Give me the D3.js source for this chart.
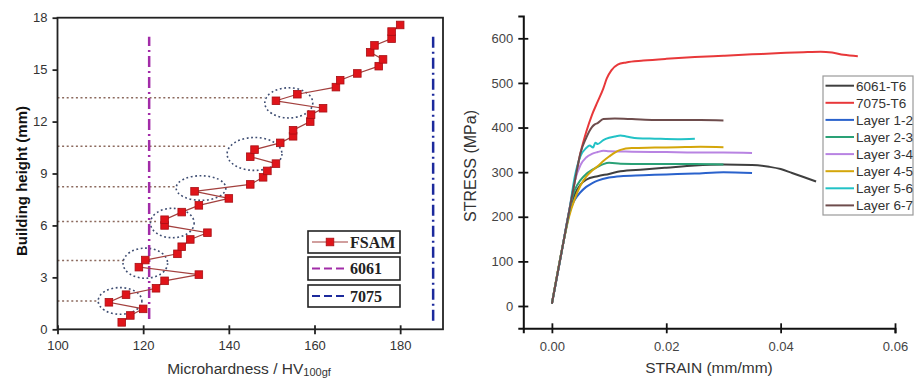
<!DOCTYPE html>
<html>
<head>
<meta charset="utf-8">
<script src="https://cdn.jsdelivr.net/npm/d3@7"></script>
<style>
  html, body { margin: 0; padding: 0; background: #fff; }
  svg { display: block; font-family: Arial, "Liberation Sans", sans-serif; }
</style>
</head>
<body>
<svg id="chart" width="914" height="378"></svg>
<script>
/* Two-panel figure: microhardness profile of the FSAM build (left) and
 * stress-strain curves of the base alloys and layer interfaces (right). */

// ---- left panel data ----
var hardness = [115, 117, 120, 112, 116, 123, 125, 133, 119, 120.5, 128, 129, 131, 135, 125, 125, 129, 133, 140, 132,
  145, 148, 149, 151, 145, 146, 152, 155, 155, 159, 159.2, 162, 151, 156, 165, 166, 170, 175, 176, 173, 174, 178, 178, 180];
var height = [0.4, 0.8, 1.18, 1.56, 2.0, 2.37, 2.8, 3.16, 3.59, 4.0, 4.36, 4.77, 5.19, 5.58, 6.0, 6.33, 6.77, 7.16, 7.56, 7.97,
  8.37, 8.78, 9.15, 9.57, 9.97, 10.38, 10.77, 11.15, 11.5, 12.0, 12.4, 12.77, 13.2, 13.58, 13.99, 14.39, 14.78, 15.2, 15.59, 16.0,
  16.4, 16.79, 17.2, 17.58];
var refAlloys = ["6061", "7075"];
var refHardness = [121.4, 187.7];
var refSpan = [[0.6, 16.9], [0.5, 16.9]];
var interfaceHeight = [13.37, 10.57, 8.24, 6.23, 3.97, 1.64];
var interfaceEnd = [148.4, 139.3, 127.6, 123, 115.6, 109.7];
var ringCenterX = [154, 146, 133.5, 126.8, 120.5, 114.6];
var ringCenterY = [13.08, 10.13, 8.16, 6.14, 3.82, 1.64];
var ringRadiusX = [5.6, 6.4, 5.8, 5.1, 5.2, 5.1];
var ringRadiusY = [0.87, 0.95, 0.71, 0.85, 0.87, 0.77];
var hvTicks = [100, 120, 140, 160, 180];
var heightTicks = [0, 3, 6, 9, 12, 15, 18];

// ---- right panel data ----
var curveNames = ["6061-T6", "7075-T6", "Layer 1-2", "Layer 2-3", "Layer 3-4", "Layer 4-5", "Layer 5-6", "Layer 6-7"];
var curve6061 = [[0, 5], [0.002, 142], [0.003, 205], [0.004, 250], [0.005, 272], [0.006, 283], [0.008, 291], [0.010, 296],
  [0.012, 302], [0.016, 306], [0.020, 310], [0.025, 315], [0.030, 317], [0.035, 316], [0.038, 312], [0.040, 307],
  [0.042, 298], [0.044, 289], [0.0462, 279]];
var curve7075 = [[0, 5], [0.002, 142], [0.004, 279], [0.005, 343], [0.006, 390], [0.007, 428], [0.008, 458], [0.009, 488],
  [0.0096, 510], [0.0104, 528], [0.0115, 541], [0.013, 546], [0.016, 550], [0.020, 554], [0.025, 558], [0.030, 561],
  [0.035, 564], [0.040, 567], [0.044, 569], [0.047, 570], [0.049, 568], [0.051, 563], [0.0535, 560]];
var curveL12 = [[0, 5], [0.002, 142], [0.003, 208], [0.004, 238], [0.005, 255], [0.006, 267], [0.007, 275], [0.008, 281],
  [0.010, 288], [0.012, 291], [0.016, 293], [0.020, 295], [0.025, 297], [0.030, 300], [0.035, 298]];
var curveL23 = [[0, 5], [0.002, 142], [0.003, 212], [0.004, 260], [0.005, 282], [0.006, 296], [0.007, 305], [0.008, 312],
  [0.009, 318], [0.010, 321], [0.012, 319], [0.016, 318], [0.020, 318], [0.025, 318], [0.030, 317]];
var curveL34 = [[0, 5], [0.002, 142], [0.003, 212], [0.004, 280], [0.005, 316], [0.006, 333], [0.007, 341], [0.008, 345],
  [0.009, 348], [0.010, 347], [0.014, 346], [0.020, 345], [0.025, 344], [0.030, 344], [0.035, 343]];
var curveL45 = [[0, 5], [0.002, 142], [0.003, 200], [0.004, 240], [0.005, 270], [0.006, 290], [0.007, 303], [0.008, 313],
  [0.009, 325], [0.010, 335], [0.011, 344], [0.012, 350], [0.014, 354], [0.018, 355], [0.022, 356], [0.026, 357], [0.030, 356]];
var curveL56 = [[0, 5], [0.002, 142], [0.003, 210], [0.004, 290], [0.005, 336], [0.006, 354], [0.0066, 360], [0.0072, 355],
  [0.0076, 366], [0.008, 363], [0.009, 372], [0.010, 377], [0.011, 380], [0.012, 382], [0.013, 380], [0.015, 376],
  [0.018, 375], [0.022, 374], [0.025, 375]];
var curveL67 = [[0, 5], [0.002, 142], [0.004, 279], [0.005, 343], [0.006, 377], [0.007, 401], [0.0075, 407], [0.008, 410],
  [0.009, 419], [0.011, 420], [0.014, 419], [0.018, 417], [0.022, 417], [0.026, 417], [0.030, 416]];
var strainTicks = [0, 0.02, 0.04, 0.06];
var stressTicks = [0, 100, 200, 300, 400, 500, 600];

(function () {
  "use strict";

  var svg = d3.select("#chart");

  // ================= left panel =================
  var x1 = d3.scaleLinear().domain([100, 190]).range([57.5, 443]);
  var y1 = d3.scaleLinear().domain([0, 18]).range([329.3, 17.7]);
  var left = svg.append("g");

  // interface guide lines
  left.append("g").selectAll("line")
    .data(interfaceHeight)
    .join("line")
    .attr("x1", x1(100))
    .attr("x2", function (d, i) { return x1(interfaceEnd[i]); })
    .attr("y1", function (d) { return y1(d); })
    .attr("y2", function (d) { return y1(d); })
    .attr("stroke", "#8c6a5e")
    .attr("stroke-width", 1.5)
    .attr("stroke-dasharray", "2,2.6");

  left.append("g").selectAll("ellipse")
    .data(ringCenterX)
    .join("ellipse")
    .attr("cx", function (d) { return x1(d); })
    .attr("cy", function (d, i) { return y1(ringCenterY[i]); })
    .attr("rx", function (d, i) { return x1(100 + ringRadiusX[i]) - x1(100); })
    .attr("ry", function (d, i) { return y1(0) - y1(ringRadiusY[i]); })
    .attr("fill", "none")
    .attr("stroke", "#3e4d72")
    .attr("stroke-width", 1.6)
    .attr("stroke-dasharray", "1.8,2.6");

  var refColors = ["#a22ca8", "#1c2a9c"];
  left.append("g").selectAll("line")
    .data(refHardness)
    .join("line")
    .attr("x1", function (d) { return x1(d); })
    .attr("x2", function (d) { return x1(d); })
    .attr("y1", function (d, i) { return y1(refSpan[i][0]); })
    .attr("y2", function (d, i) { return y1(refSpan[i][1]); })
    .attr("stroke", function (d, i) { return refColors[i]; })
    .attr("stroke-width", 2.5)
    .attr("stroke-dasharray", "11,4,2,4");

  var fsam = hardness.map(function (h, i) { return [h, height[i]]; });
  left.append("path")
    .datum(fsam)
    .attr("fill", "none")
    .attr("stroke", "#a3403e")
    .attr("stroke-width", 1.2)
    .attr("d", d3.line().x(function (d) { return x1(d[0]); }).y(function (d) { return y1(d[1]); }));

  left.append("g").selectAll("rect")
    .data(fsam)
    .join("rect")
    .attr("x", function (d) { return x1(d[0]) - 3.8; })
    .attr("y", function (d) { return y1(d[1]) - 3.8; })
    .attr("width", 7.6)
    .attr("height", 7.6)
    .attr("fill", "#e0141a")
    .attr("stroke", "#a80f14")
    .attr("stroke-width", 0.8);

  // frame and axes
  left.append("rect")
    .attr("x", x1(100)).attr("y", y1(18))
    .attr("width", x1(190) - x1(100)).attr("height", y1(0) - y1(18))
    .attr("fill", "none").attr("stroke", "#222").attr("stroke-width", 1.8);

  var xAxis1 = left.append("g").attr("transform", "translate(0," + y1(0) + ")");
  xAxis1.call(d3.axisBottom(x1).tickValues(d3.range(110, 190, 20)).tickSize(4).tickFormat(""));
  xAxis1.call(d3.axisBottom(x1).tickValues(hvTicks).tickSize(5).tickPadding(6).tickFormat(d3.format("d")));
  xAxis1.selectAll(".tick line").attr("y1", -4).attr("stroke-width", 1.8).attr("stroke", "#222");
  var yAxis1 = left.append("g").attr("transform", "translate(" + x1(100) + ",0)");
  yAxis1.call(d3.axisLeft(y1).tickValues(d3.range(1.5, 18, 3)).tickSize(-4).tickFormat(""));
  yAxis1.call(d3.axisLeft(y1).tickValues(heightTicks).tickSize(5).tickPadding(5).tickFormat(d3.format("d")));
  yAxis1.selectAll(".tick line").attr("stroke-width", 1.8).attr("stroke", "#222");
  left.selectAll(".domain").remove();
  left.selectAll(".tick text").attr("font-size", 13).attr("fill", "#333").attr("font-family", "Arial, 'Liberation Sans', sans-serif");

  left.append("text")
    .attr("transform", "translate(27,181) rotate(-90)")
    .attr("text-anchor", "middle")
    .attr("font-size", 15)
    .attr("font-weight", "bold")
    .attr("fill", "#111")
    .text("Building height (mm)");

  var xl = left.append("text")
    .attr("x", 249).attr("y", 374)
    .attr("text-anchor", "middle")
    .attr("font-size", 15.5)
    .attr("fill", "#333");
  xl.append("tspan").text("Microhardness / HV");
  xl.append("tspan").attr("font-size", 11).attr("dy", 2).text("100gf");

  // boxed legend
  var legendItems = [
    { label: "FSAM", color: "#a3403e", y: 231, h: 22 },
    { label: refAlloys[0], color: refColors[0], y: 257, h: 23 },
    { label: refAlloys[1], color: refColors[1], y: 285, h: 22 }
  ];
  var lg = left.append("g").selectAll("g").data(legendItems).join("g")
    .attr("transform", function (d) { return "translate(308," + d.y + ")"; });
  lg.append("rect")
    .attr("width", 92).attr("height", function (d) { return d.h; })
    .attr("fill", "#fff").attr("stroke", "#222").attr("stroke-width", 1.6);
  lg.append("line")
    .attr("x1", 4).attr("x2", 40)
    .attr("y1", function (d) { return d.h / 2; }).attr("y2", function (d) { return d.h / 2; })
    .attr("stroke", function (d) { return d.color; })
    .attr("stroke-width", function (d, i) { return i === 0 ? 1.2 : 2.2; })
    .attr("stroke-dasharray", function (d, i) { return i === 0 ? null : "8,4"; });
  lg.filter(function (d, i) { return i === 0; })
    .append("rect")
    .attr("x", 18.2).attr("y", function (d) { return d.h / 2 - 3.8; })
    .attr("width", 7.6).attr("height", 7.6)
    .attr("fill", "#e0141a").attr("stroke", "#a80f14").attr("stroke-width", 0.8);
  lg.append("text")
    .attr("x", 42).attr("y", function (d) { return d.h / 2 + 5.5; })
    .attr("font-family", "'Liberation Serif', 'DejaVu Serif', serif")
    .attr("font-weight", "bold")
    .attr("font-size", 16)
    .attr("fill", "#222")
    .text(function (d) { return d.label; });

  // ================= right panel =================
  var x2 = d3.scaleLinear().domain([-0.005, 0.06]).range([523.3, 895]);
  var y2 = d3.scaleLinear().domain([-50, 650]).range([328.3, 16]);
  var right = svg.append("g");
  var curves = [curve6061, curve7075, curveL12, curveL23, curveL34, curveL45, curveL56, curveL67];
  var curveColors = ["#3f3f3f", "#e8383a", "#2a62cc", "#2aa176", "#b883e2", "#d4a60a", "#22c2c6", "#6e4c4c"];

  var line2 = d3.line()
    .x(function (d) { return x2(d[0]); })
    .y(function (d) { return y2(d[1]); })
    .curve(d3.curveMonotoneX);

  right.append("g").selectAll("path")
    .data(curves)
    .join("path")
    .attr("fill", "none")
    .attr("stroke", function (d, i) { return curveColors[i]; })
    .attr("stroke-width", 2)
    .attr("d", line2);

  var xAxis2 = right.append("g").attr("transform", "translate(0," + y2(-50) + ")");
  xAxis2.call(d3.axisBottom(x2).tickValues([0.01, 0.03, 0.05]).tickSize(3).tickFormat(""));
  xAxis2.call(d3.axisBottom(x2).tickValues(strainTicks).tickSize(5).tickPadding(8).tickFormat(d3.format(".2f")));
  xAxis2.selectAll(".tick line").attr("y1", function () { return -d3.select(this).attr("y2"); });
  var yAxis2 = right.append("g").attr("transform", "translate(" + x2(-0.005) + ",0)");
  yAxis2.call(d3.axisLeft(y2).tickValues([-50, 50, 150, 250, 350, 450, 550, 650]).tickSize(3).tickFormat(""));
  yAxis2.call(d3.axisLeft(y2).tickValues(stressTicks).tickSize(5).tickPadding(5).tickFormat(d3.format("d")));
  yAxis2.selectAll(".tick line").attr("x1", function () { return -d3.select(this).attr("x2"); });
  right.selectAll(".domain").attr("stroke", "#111").attr("stroke-width", 2);
  right.selectAll(".tick line").attr("stroke", "#111").attr("stroke-width", 1.8);
  right.selectAll(".tick text").attr("font-size", 13).attr("fill", "#444").attr("font-family", "Arial, 'Liberation Sans', sans-serif");

  right.append("text")
    .attr("transform", "translate(476,166) rotate(-90)")
    .attr("text-anchor", "middle")
    .attr("font-size", 16)
    .attr("fill", "#333")
    .text("STRESS (MPa)");
  right.append("text")
    .attr("x", 709).attr("y", 373)
    .attr("text-anchor", "middle")
    .attr("font-size", 15.5)
    .attr("fill", "#333")
    .text("STRAIN (mm/mm)");

  var legend2 = right.append("g").attr("transform", "translate(823,76)");
  legend2.append("rect")
    .attr("width", 90).attr("height", 139)
    .attr("fill", "#fff").attr("stroke", "#9a9a9a").attr("stroke-width", 1.2);
  var row = legend2.selectAll("g.row").data(curveNames).join("g")
    .attr("class", "row")
    .attr("transform", function (d, i) { return "translate(0," + (9.7 + i * 17.1) + ")"; });
  row.append("line")
    .attr("x1", 2.5).attr("x2", 31)
    .attr("stroke", function (d, i) { return curveColors[i]; })
    .attr("stroke-width", 2);
  row.append("text")
    .attr("x", 33).attr("y", 4.8)
    .attr("font-size", 13.5)
    .attr("fill", "#333")
    .text(function (d) { return d; });
})();
</script>
</body>
</html>
